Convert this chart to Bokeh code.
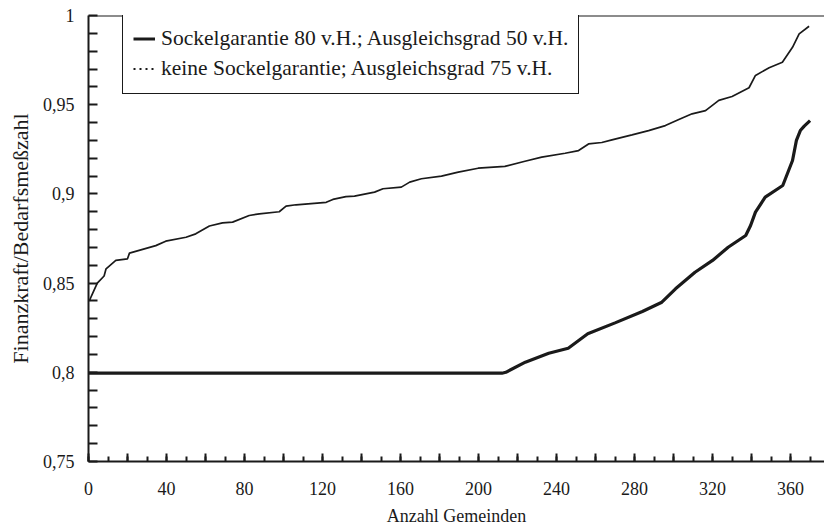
from bokeh.plotting import figure
from bokeh.models import (Range1d, FixedTicker, CustomJSTickFormatter, Legend, LegendItem, Span)
from bokeh.embed import file_html
from bokeh.resources import INLINE

# Data
sockel_x = [0, 212, 214, 224, 236, 246, 256, 270, 284, 294, 301, 311, 320, 328, 337,
            339.5, 342, 347, 356, 359, 361, 363, 365, 367, 370]
sockel_y = [0.7995, 0.7995, 0.800, 0.8057, 0.8107, 0.8135, 0.8216, 0.8277, 0.8341, 0.8393,
            0.8468, 0.8561, 0.8627, 0.8701, 0.8767, 0.8823, 0.8898, 0.8982, 0.9047, 0.9131,
            0.9187, 0.930, 0.9355, 0.938, 0.9411]

keine_x = [0.5, 1, 2, 4.5, 8, 9, 14, 20, 21, 34.5, 39.6, 50, 55, 62, 68.7, 73.9, 82.4, 87.6,
           97.8, 101.3, 106.4, 121.9, 125.3, 132, 136.4, 146.7, 151, 160.4, 164.7, 170.7, 181,
           189.6, 199.8, 213.5, 223.8, 232.4, 244.4, 251.3, 256.4, 263.2, 268.4, 278.7, 287.2,
           295.8, 302.7, 309.5, 316.4, 323.2, 330, 338.7, 342, 349, 355.8, 361, 364.4, 369.5]
keine_y = [0.840, 0.8415, 0.844, 0.850, 0.854, 0.858, 0.8627, 0.8636, 0.8668, 0.871, 0.8735,
           0.8757, 0.8776, 0.882, 0.8838, 0.8842, 0.8879, 0.8888, 0.890, 0.8931, 0.8939, 0.8953,
           0.8969, 0.8985, 0.8988, 0.901, 0.9029, 0.9038, 0.9066, 0.9085, 0.910, 0.9122, 0.9144,
           0.9154, 0.9183, 0.9206, 0.9228, 0.9243, 0.928, 0.9288, 0.9303, 0.9331, 0.9355, 0.9383,
           0.9417, 0.9449, 0.9467, 0.9524, 0.9546, 0.9595, 0.9664, 0.9707, 0.9738, 0.9822,
           0.9897, 0.994]

x_major = list(range(0, 381, 20))
x_minor = list(range(0, 381, 10))
y_ticks = [round(0.75 + 0.01 * i, 2) for i in range(26)]

label_solid = "Sockelgarantie 80 v.H.; Ausgleichsgrad 50 v.H."
label_dot = "keine Sockelgarantie; Ausgleichsgrad 75 v.H."
x_title = "Anzahl Gemeinden"
y_title = "Finanzkraft/Bedarfsmeßzahl"

FONT = "Liberation Serif"
INK = "#1a1a1a"

p = figure(width=824, height=528, output_backend="svg", toolbar_location=None,
           x_range=Range1d(0, 377.4), y_range=Range1d(0.75, 1.0),
           min_border_left=88, min_border_right=0, min_border_top=15, min_border_bottom=67)
p.outline_line_color = None
p.grid.visible = False
p.background_fill_color = "white"
p.border_fill_color = "white"

# X axis
xa = p.xaxis[0]
xa.ticker = FixedTicker(ticks=x_major, minor_ticks=x_minor)
xa.formatter = CustomJSTickFormatter(code="return (Math.round(tick) % 40 == 0) ? Math.round(tick).toString() : '';")
xa.major_tick_in = 8
xa.major_tick_out = 0
xa.minor_tick_in = 5
xa.minor_tick_out = 0
xa.axis_line_width = 2
xa.axis_line_color = INK
xa.major_tick_line_width = 2
xa.major_tick_line_color = INK
xa.minor_tick_line_width = 2
xa.minor_tick_line_color = INK
xa.major_label_text_font = FONT
xa.major_label_text_font_size = "18px"
xa.major_label_text_color = INK
xa.major_label_standoff = 20
xa.axis_label = x_title
xa.axis_label_text_font = FONT
xa.axis_label_text_font_size = "18px"
xa.axis_label_text_font_style = "normal"
xa.axis_label_text_color = INK
xa.axis_label_standoff = 8

# Y axis
ya = p.yaxis[0]
ya.ticker = FixedTicker(ticks=y_ticks, minor_ticks=[])
ya.formatter = CustomJSTickFormatter(code="""
var r = tick * 20;
if (Math.abs(r - Math.round(r)) > 1e-6) { return ''; }
return parseFloat(tick.toFixed(2)).toString().replace('.', ',');
""")
ya.major_tick_in = 9
ya.major_tick_out = 0
ya.minor_tick_in = 0
ya.minor_tick_out = 0
ya.axis_line_width = 2
ya.axis_line_color = INK
ya.major_tick_line_width = 2
ya.major_tick_line_color = INK
ya.major_label_text_font = FONT
ya.major_label_text_font_size = "18px"
ya.major_label_text_color = INK
ya.major_label_standoff = 14
ya.axis_label = y_title
ya.axis_label_text_font = FONT
ya.axis_label_text_font_size = "22px"
ya.axis_label_text_font_style = "normal"
ya.axis_label_text_color = INK
ya.axis_label_standoff = 7

# Top frame line
p.add_layout(Span(location=1.0, dimension="width", line_color=INK, line_width=2))

r_solid = p.line(sockel_x, sockel_y, line_color=INK, line_width=3.2)
r_dot = p.line(keine_x, keine_y, line_color=INK, line_width=1.7)

# Legend glyph proxies (placed outside the visible range)
leg_solid = p.line([-50, -40], [0.5, 0.5], line_color=INK, line_width=3)
leg_dot = p.line([-50, -40], [0.5, 0.5], line_color=INK, line_width=1.8, line_dash="2 4")

legend = Legend(items=[LegendItem(label=label_solid, renderers=[leg_solid]),
                       LegendItem(label=label_dot, renderers=[leg_dot])],
                location=(34, 367))
legend.label_text_font = FONT
legend.label_text_font_size = "21.5px"
legend.label_text_color = INK
legend.label_standoff = 6
legend.glyph_width = 22
legend.glyph_height = 29
legend.label_height = 29
legend.spacing = 1
legend.padding = 10
legend.margin = 0
legend.border_line_color = INK
legend.border_line_width = 1.5
legend.border_line_alpha = 1.0
legend.background_fill_alpha = 1.0
p.add_layout(legend)

open("out.html", "w").write(file_html(p, INLINE))
